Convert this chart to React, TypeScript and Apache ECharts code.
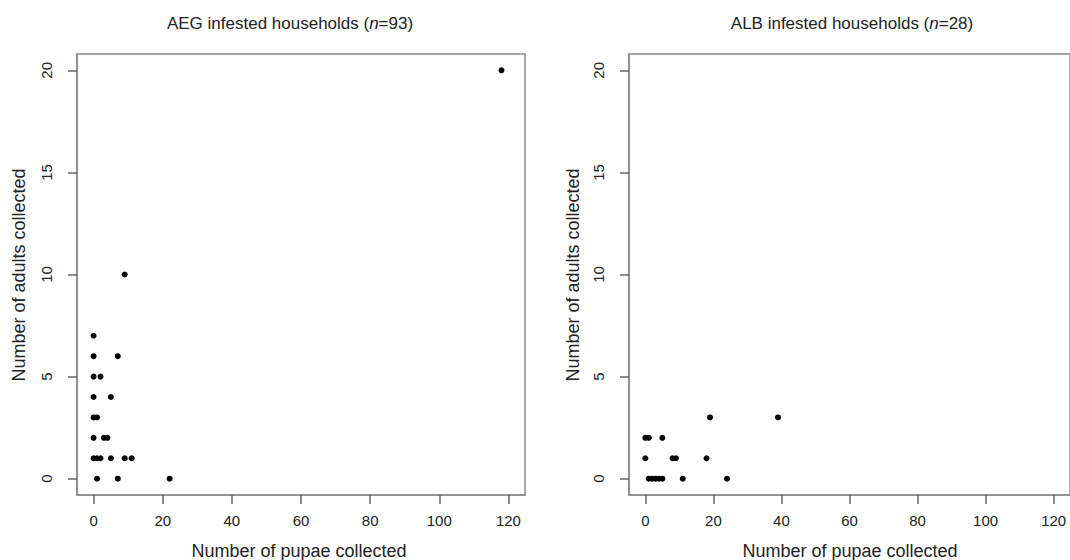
import React, { useEffect, useRef } from "react";
import * as echarts from "echarts";

const xTicks = [0, 20, 40, 60, 80, 100, 120];
const yTicks = [0, 5, 10, 15, 20];

const aegPupae = [118, 9, 0, 0, 7, 0, 2, 0, 5, 0, 1, 0, 3, 4, 0, 1, 2, 5, 9, 11, 1, 7, 22];
const aegAdults = [20, 10, 7, 6, 6, 5, 5, 4, 4, 3, 3, 2, 2, 2, 1, 1, 1, 1, 1, 1, 0, 0, 0];

const albPupae = [19, 39, 0, 1, 5, 0, 8, 9, 18, 1, 2, 3, 4, 5, 11, 24];
const albAdults = [3, 3, 2, 2, 2, 1, 1, 1, 1, 0, 0, 0, 0, 0, 0, 0];

const titles = [
  { group: "AEG", n: 93 },
  { group: "ALB", n: 28 },
];
const xName = "Number of pupae collected";
const yName = "Number of adults collected";

const X_MIN = -4.8;
const X_MAX = 124.8;
const Y_MIN = -0.8;
const Y_MAX = 20.8;

const FONT = "Liberation Sans, Arial, sans-serif";
const GRAY = "#8a8a8a";
const TICK = "#666";
const TXT = "#222";

export default function App() {
  const ref = useRef<HTMLDivElement>(null);
  useEffect(() => {
    if (!ref.current) return;
    const chart = echarts.init(ref.current, null, { renderer: "svg" });
    const grids = [
      { left: 77, top: 54, width: 448, height: 441 },
      { left: 629, top: 54, width: 450, height: 441 },
    ];
    const mkX = (i: number) => ({
      type: "value",
      gridIndex: i,
      position: "bottom",
      min: X_MIN,
      max: X_MAX,
      splitLine: { show: false },
      axisLine: { show: true, onZero: false, lineStyle: { color: GRAY, width: 1.5 } },
      axisTick: { show: true, inside: false, length: 9, customValues: xTicks, lineStyle: { color: TICK, width: 1.5 } },
      axisLabel: { customValues: xTicks, margin: 18, fontSize: 15, fontFamily: FONT, color: TXT },
    });
    const mkY = (i: number) => ({
      type: "value",
      gridIndex: i,
      position: "left",
      min: Y_MIN,
      max: Y_MAX,
      splitLine: { show: false },
      axisLine: { show: true, onZero: false, lineStyle: { color: GRAY, width: 1.5 } },
      axisTick: { show: true, inside: false, length: 9, customValues: yTicks, lineStyle: { color: TICK, width: 1.5 } },
      axisLabel: { customValues: yTicks, rotate: 90, margin: 23, fontSize: 15, fontFamily: FONT, color: TXT },
    });
    const titleCenters = [290, 852];
    const xNameCenters = [299, 850];
    const yNameX = [19, 573];
    const graphic: any[] = [];
    titles.forEach((t, i) => {
      graphic.push({
        type: "text",
        x: titleCenters[i],
        y: 23,
        style: {
          text: `${t.group} infested households ({i|n}=${t.n})`,
          rich: { i: { fontStyle: "italic", fontSize: 17, fontFamily: FONT, fill: TXT } },
          fontSize: 17,
          fontFamily: FONT,
          fill: TXT,
          textAlign: "center",
          textVerticalAlign: "middle",
        },
      });
      graphic.push({
        type: "text",
        x: xNameCenters[i],
        y: 551,
        style: { text: xName, fontSize: 18, fontFamily: FONT, fill: TXT, textAlign: "center", textVerticalAlign: "middle" },
      });
      graphic.push({
        type: "text",
        x: yNameX[i],
        y: 275,
        rotation: Math.PI / 2,
        style: { text: yName, fontSize: 18, fontFamily: FONT, fill: TXT, textAlign: "center", textVerticalAlign: "middle" },
      });
    });
    chart.setOption({
      animation: false,
      backgroundColor: "#fff",
      grid: grids.map((g) => ({ ...g, show: true, borderColor: GRAY, borderWidth: 1.5, backgroundColor: "transparent" })),
      xAxis: [mkX(0), mkX(1)],
      yAxis: [mkY(0), mkY(1)],
      series: [
        {
          type: "scatter",
          xAxisIndex: 0,
          yAxisIndex: 0,
          symbolSize: 6,
          itemStyle: { color: "#000", opacity: 1 },
          data: aegPupae.map((x, k) => [x, aegAdults[k]]),
        },
        {
          type: "scatter",
          xAxisIndex: 1,
          yAxisIndex: 1,
          symbolSize: 6,
          itemStyle: { color: "#000", opacity: 1 },
          data: albPupae.map((x, k) => [x, albAdults[k]]),
        },
      ],
      graphic,
    });
    return () => chart.dispose();
  }, []);
  return (
    <div
      ref={ref}
      style={{ position: "absolute", left: 0, top: 0, width: 1070, height: 560, background: "#fff" }}
    />
  );
}
